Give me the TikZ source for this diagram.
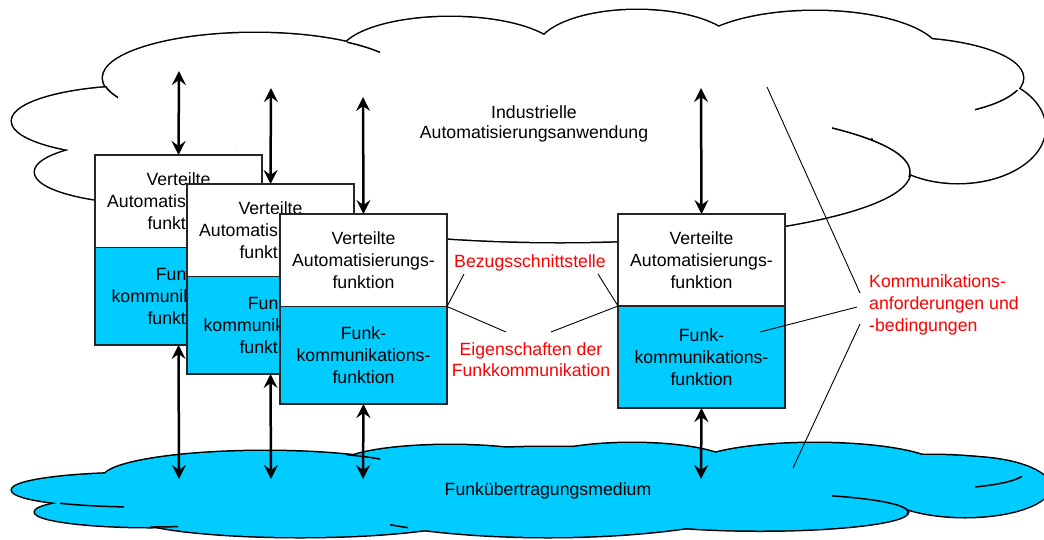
\documentclass[tikz,border=0pt]{standalone}
\usepackage{fontspec}
\setmainfont{Liberation Sans}
\usetikzlibrary{arrows.meta}
\definecolor{funkblue}{HTML}{00CCFF}
\definecolor{labelred}{HTML}{FF0000}
\tikzset{
  lbl/.style={font=\fontsize{17.7}{22}\selectfont, align=center, inner sep=0pt},
  redlbl/.style={lbl, text=labelred},
  upperbox/.style={draw=black!85, line width=1.2pt, fill=white, outer sep=0pt,
    minimum width=167pt, minimum height=92.5pt, anchor=north west, lbl},
  lowerbox/.style={upperbox, fill=funkblue, minimum height=97.5pt},
  dbl/.style={line width=2.5pt,
    {Stealth[length=14pt,width=14pt,inset=5pt]}-{Stealth[length=14pt,width=14pt,inset=5pt]}},
  pointer/.style={line width=0.9pt, draw=black},
  lobeline/.style={line width=3pt, draw=black},
  stubline/.style={line width=1.5pt, draw=black},
}
% lobes of the two clouds: centre x / centre y / x radius / y radius
\def\toplobes{143/121/131/35, 160/172/125/32, 255/78/152/45, 450/55/110/38,
  637/50/100/40, 815/55/125/44, 900/78/123/40, 958/128/87/55, 560/172/350/70}
\def\botlobes{265/478/162/27, 140/490/128/17, 150/512/115/15, 300/515/170/22,
  548/492/230/45, 450/465/110/20, 632/465/100/22, 815/468/125/25,
  930/472/95/17, 965/487/85/30, 760/512/148/18.5}
% short inner arcs: clip box x1/y1/x2/y2 and lobe cx/cy/rx/ry
\def\topstubs{100/86/118/100/255/78/152/45, 347/38/380/56/255/78/152/45,
  975/90/1022/112/900/78/123/40, 832/120/912/176/560/172/350/70}
\def\botstubs{347/445/380/465/265/478/162/27, 60/496/124/512/140/490/128/17,
  150/518/178/531/150/512/115/15, 975/476/1022/492/930/472/95/17,
  832/490/910/513/760/512/148/18.5, 390/518/408/535/548/492/230/45}
\begin{document}
\begin{tikzpicture}[x=1pt, y=-1pt]
\useasboundingbox (0,0) rectangle (1044,539);

% upper cloud: outlines of all lobes, then their union filled
\foreach \cx/\cy/\rx/\ry in \toplobes
  \draw[lobeline] (\cx,\cy) ellipse [x radius=\rx pt, y radius=\ry pt];
\foreach \cx/\cy/\rx/\ry in \toplobes
  \fill[white] (\cx,\cy) ellipse [x radius=\rx pt, y radius=\ry pt];
\fill[white] (560,120) ellipse [x radius=330pt, y radius=55pt];
\foreach \ax/\ay/\bx/\by/\cx/\cy/\rx/\ry in \topstubs {
  \begin{scope}
    \clip (\ax,\ay) rectangle (\bx,\by);
    \draw[stubline] (\cx,\cy) ellipse [x radius=\rx pt, y radius=\ry pt];
  \end{scope}
}

% lower cloud
\foreach \cx/\cy/\rx/\ry in \botlobes
  \draw[lobeline] (\cx,\cy) ellipse [x radius=\rx pt, y radius=\ry pt];
\foreach \cx/\cy/\rx/\ry in \botlobes
  \fill[funkblue] (\cx,\cy) ellipse [x radius=\rx pt, y radius=\ry pt];
\fill[funkblue] (560,490) ellipse [x radius=380pt, y radius=30pt];
\foreach \ax/\ay/\bx/\by/\cx/\cy/\rx/\ry in \botstubs {
  \begin{scope}
    \clip (\ax,\ay) rectangle (\bx,\by);
    \draw[stubline] (\cx,\cy) ellipse [x radius=\rx pt, y radius=\ry pt];
  \end{scope}
}

\node[lbl, font=\fontsize{17.7}{20}\selectfont] (app) at (534,124)
  {Industrielle\\Automatisierungsanwendung};
\node[lbl] (med) at (548,491) {Funkübertragungsmedium};

% the four stations
\node[upperbox] (b1u) at (95,155) {Verteilte\\Automatisierungs-\\funktion};
\node[lowerbox] (b1l) at (b1u.south west) {Funk-\\kommunikations-\\funktion};
\node[upperbox] (b2u) at (187,184) {Verteilte\\Automatisierungs-\\funktion};
\node[lowerbox] (b2l) at (b2u.south west) {Funk-\\kommunikations-\\funktion};
\node[upperbox] (b3u) at (280,214) {Verteilte\\Automatisierungs-\\funktion};
\node[lowerbox] (b3l) at (b3u.south west) {Funk-\\kommunikations-\\funktion};
\node[upperbox, minimum height=92pt] (b4u) at (618,214) {Verteilte\\Automatisierungs-\\funktion};
\node[lowerbox, minimum height=102pt] (b4l) at (b4u.south west) {Funk-\\kommunikations-\\funktion};

% links to the application and to the medium
\coordinate (t1) at (179,71);
\coordinate (t2) at (271,88);
\coordinate (t3) at (363,97);
\coordinate (t4) at (701,88);
\coordinate (m1) at (179,479);
\coordinate (m2) at (271,479);
\coordinate (m3) at (363,479);
\coordinate (m4) at (701,479);
\draw[dbl] (t1) -- (b1u.north);
\draw[dbl] (t2) -- (b2u.north);
\draw[dbl] (t3) -- (b3u.north);
\draw[dbl] (t4) -- (b4u.north);
\draw[dbl] (b1l.south) -- (m1);
\draw[dbl] (b2l.south) -- (m2);
\draw[dbl] (b3l.south) -- (m3);
\draw[dbl] (b4l.south) -- (m4);

% annotations
\node[redlbl] (bz) at (530,263) {Bezugsschnittstelle};
\node[redlbl, font=\fontsize{17.7}{21}\selectfont] (eg) at (531,360)
  {Eigenschaften der\\Funkkommunikation};
\node[redlbl, align=left, anchor=west] (ka) at (869,305)
  {Kommunikations-\\anforderungen und\\-bedingungen};

\coordinate (bzL) at (464,274);
\coordinate (bzR) at (598,274);
\coordinate (egL) at (506,332);
\coordinate (egR) at (551,332);
\coordinate (kaA) at (860,293);
\coordinate (kaB) at (857,307);
\coordinate (kaC) at (860,324);
\coordinate (kaApp) at (767,87);
\coordinate (kaBox) at (760,332);
\coordinate (kaMed) at (793,468);
\draw[pointer] (bzL) -- (b3u.south east);
\draw[pointer] (bzR) -- (b4u.south west);
\draw[pointer] (b3u.south east) -- (egL);
\draw[pointer] (b4u.south west) -- (egR);
\draw[pointer] (kaA) -- (kaApp);
\draw[pointer] (kaB) -- (kaBox);
\draw[pointer] (kaC) -- (kaMed);
\end{tikzpicture}
\end{document}
